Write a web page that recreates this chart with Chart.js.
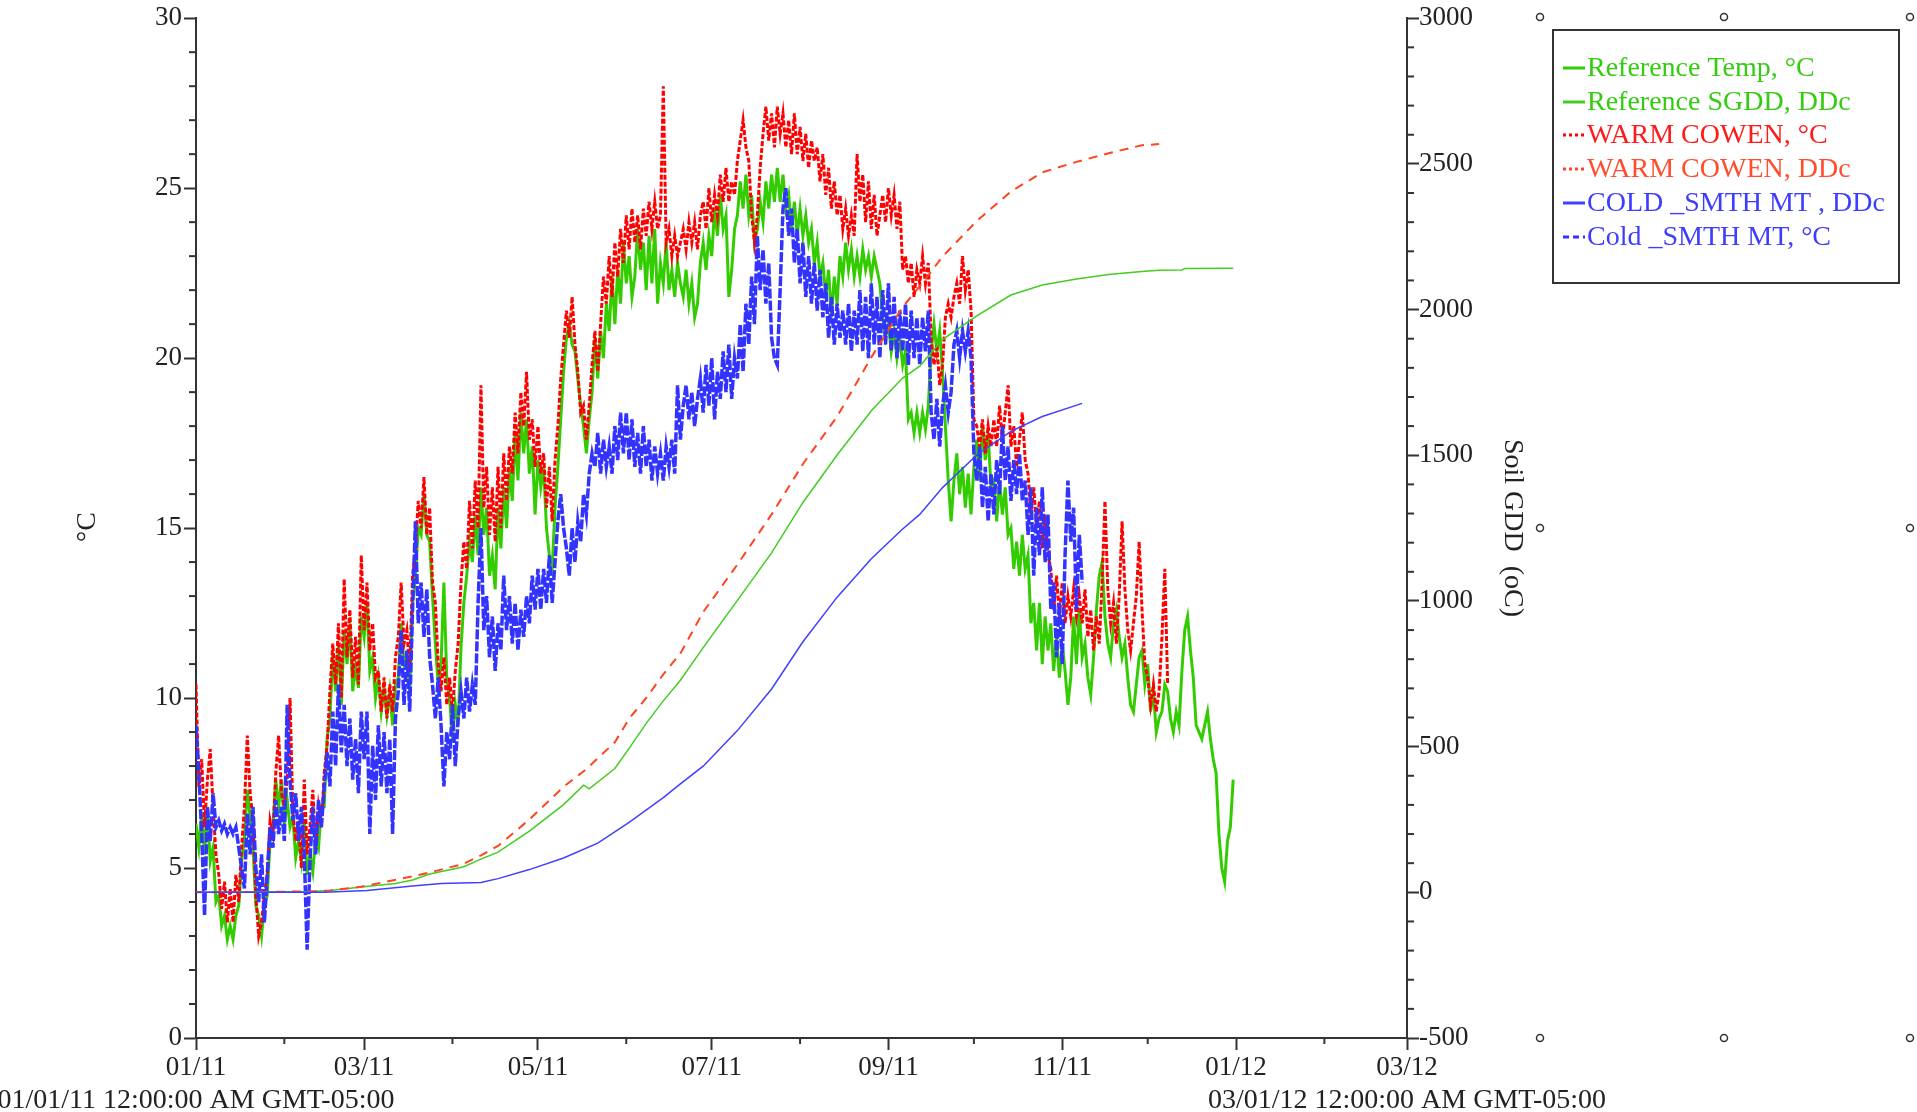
<!DOCTYPE html>
<html><head><meta charset="utf-8">
<script src="https://cdn.jsdelivr.net/npm/chart.js@4/dist/chart.umd.min.js"></script>
<style>html,body{margin:0;padding:0;background:#fff;overflow:hidden}canvas{display:block}</style>
</head><body>
<canvas id="c" width="1917" height="1112" style="width:1917px;height:1112px"></canvas>
<script>
const FONT = '"Liberation Serif", "Times New Roman", serif';

// x axis: days since 01/01/11
const monthStarts = [0,31,59,90,120,151,181,212,243,273,304,334,365,396,425];
const monthLabels = {0:'01/11',59:'03/11',120:'05/11',181:'07/11',243:'09/11',304:'11/11',365:'01/12',425:'03/12'};
const xEndLabels = ['01/01/11 12:00:00 AM GMT-05:00','03/01/12 12:00:00 AM GMT-05:00'];
const tempTicks = [0,1,2,3,4,5,6,7,8,9,10,11,12,13,14,15,16,17,18,19,20,21,22,23,24,25,26,27,28,29,30];
const gddTicks = [-500,-400,-300,-200,-100,0,100,200,300,400,500,600,700,800,900,1000,1100,1200,1300,1400,1500,1600,1700,1800,1900,2000,2100,2200,2300,2400,2500,2600,2700,2800,2900,3000];

const seriesNames = ['Reference Temp, °C','Reference SGDD, DDc','WARM COWEN, °C','WARM COWEN, DDc','COLD _SMTH MT , DDc','Cold _SMTH MT, °C'];

// daily temperatures (°C), day 0 = 01/01/11
const refTemp = [
6.3,5.6,6.6,5.4,6.8,5.2,5.6,4.0,4.2,3.3,
3.6,2.9,3.3,2.9,3.6,3.9,5.2,5.9,7.3,6.5,
5.6,3.9,3.6,3.0,3.9,4.2,5.8,6.2,7.6,6.8,
7.6,6.3,7.0,6.2,6.5,5.3,5.8,5.2,6.4,4.8,
5.4,4.9,5.9,5.6,6.8,6.8,8.8,9.4,11.3,10.2,
11.6,9.8,12.0,11.0,12.2,10.2,10.9,10.3,12.4,11.8,
12.8,10.8,11.2,10.0,10.6,9.6,10.3,9.5,10.2,9.2,
10.4,10.6,12.2,11.0,11.2,10.2,12.8,13.5,15.0,14.8,
16.0,14.8,14.6,13.0,11.6,10.4,11.0,13.4,10.6,10.0,
8.8,9.8,9.2,11.5,12.8,13.6,14.6,14.0,15.4,14.2,
16.2,14.8,15.6,13.6,14.2,13.2,15.6,14.4,16.2,15.0,
16.8,15.8,17.8,16.4,18.4,17.2,18.2,16.6,17.4,15.4,
17.0,16.2,16.8,15.0,14.2,13.8,15.6,16.8,18.2,19.6,
20.6,21.0,20.4,20.2,19.4,18.6,18.0,17.2,18.2,19.0,
20.6,19.4,20.8,20.0,21.6,20.8,22.4,21.0,22.6,21.6,
23.4,22.2,23.0,21.8,22.4,23.8,22.6,23.4,22.0,23.6,
22.2,23.8,21.6,22.8,22.2,23.4,22.0,22.6,21.8,22.8,
22.2,21.8,22.6,21.6,22.2,21.2,21.6,22.8,23.4,22.6,
23.6,23.0,24.4,23.6,24.8,23.8,24.2,21.8,22.6,23.8,
24.2,25.2,24.4,25.4,24.2,24.8,23.4,23.8,24.6,24.0,
25.2,24.4,25.4,24.6,25.6,24.6,25.4,24.4,24.8,23.8,
24.6,23.6,24.4,23.6,24.2,23.4,23.8,22.8,23.4,22.4,
22.8,21.8,22.6,21.2,22.4,21.6,23.0,22.4,23.4,22.6,
23.2,22.4,23.0,22.4,23.2,22.6,23.0,22.4,23.0,22.6,
22.2,21.2,20.6,21.0,20.2,20.8,20.0,20.6,19.8,20.2,
18.2,18.4,17.8,18.4,17.8,18.4,17.9,18.6,20.2,21.0,
20.2,20.8,19.6,18.0,16.4,15.2,16.4,17.2,16.0,16.8,
15.6,16.6,15.4,16.8,17.6,16.4,18.0,17.0,17.8,16.2,
16.4,15.2,16.4,15.4,16.2,14.8,15.0,13.8,14.6,13.6,
14.8,13.8,14.2,12.2,12.8,11.4,12.8,11.0,12.4,11.4,
12.2,10.8,11.8,10.6,11.6,10.8,9.8,10.6,12.4,11.0,
12.6,11.2,11.6,10.6,10.1,11.2,12.6,13.6,14.0,12.4,
11.6,11.2,12.2,12.6,11.8,11.2,11.6,10.6,9.8,9.6,
10.4,11.2,11.4,10.4,11.0,9.6,10.2,9.0,9.4,9.6,
10.4,10.2,9.4,9.0,9.6,9.2,10.8,12.0,12.4,11.4,
10.6,9.2,9.0,8.8,9.2,9.6,8.8,8.2,7.8,6.0,
5.0,4.6,5.8,6.2,7.6];

const warmTemp = [
10.4,7.4,8.2,6.2,7.6,8.5,6.8,5.4,4.8,3.8,
4.6,3.4,4.4,3.4,4.8,4.0,5.6,6.8,8.9,7.2,
6.4,4.2,3.0,3.4,4.2,4.8,6.4,6.0,7.8,8.9,
7.2,6.8,7.6,10.0,6.6,5.8,6.4,5.0,7.6,5.4,
6.2,7.3,5.6,6.8,6.2,7.8,8.6,10.2,11.6,10.4,
12.2,10.0,13.5,11.2,12.6,10.6,11.8,10.4,14.2,12.0,
13.4,11.4,12.2,10.6,10.8,9.6,10.6,9.4,10.4,9.6,
11.2,11.8,13.4,11.6,12.0,10.8,13.6,14.4,15.8,15.0,
16.5,14.8,15.6,13.4,12.8,11.0,10.2,11.2,9.8,10.6,
9.6,10.8,11.6,13.4,14.6,13.8,15.8,14.4,16.4,15.0,
19.2,15.6,16.8,14.8,16.2,14.6,16.8,15.0,17.2,15.8,
17.4,16.6,18.4,17.2,19.0,18.0,19.6,17.6,18.2,16.8,
18.0,16.6,17.2,15.6,16.8,15.2,17.0,18.0,19.4,20.4,
21.4,20.6,21.8,20.4,19.6,18.4,18.6,17.6,18.6,19.8,
20.8,19.6,21.0,22.4,21.6,23.0,21.8,23.4,22.4,23.8,
22.8,24.2,23.2,24.4,23.4,24.2,23.2,24.4,23.6,24.6,
23.8,24.6,23.8,24.2,28.0,23.4,23.8,23.0,23.6,23.0,
23.4,23.8,23.2,24.0,23.4,24.0,23.2,24.2,24.6,23.8,
25.0,24.0,24.8,24.2,25.4,24.6,25.6,24.6,25.2,24.8,
25.8,26.4,27.0,26.2,25.8,24.2,23.4,24.2,25.6,26.6,
27.4,26.4,27.2,26.2,27.4,26.6,27.2,26.2,27.0,26.0,
27.2,26.0,26.8,25.8,26.6,25.6,26.4,25.8,26.2,25.2,
26.0,24.8,25.6,24.4,25.2,24.2,24.8,23.8,24.4,23.6,
24.2,23.6,26.0,24.6,25.4,24.0,25.2,23.8,24.8,23.6,
24.2,24.8,24.0,25.0,24.2,24.8,23.8,24.6,22.6,23.0,
22.2,22.8,21.8,22.6,22.2,23.0,22.2,22.8,20.6,19.8,
20.4,19.2,19.8,21.2,21.6,21.2,21.8,22.2,21.6,23.0,
22.0,22.6,21.4,18.2,18.0,17.4,18.2,17.2,18.0,17.4,
18.2,17.4,18.6,17.6,18.4,19.2,17.4,18.0,16.8,17.6,
18.4,17.0,16.6,15.4,16.2,15.0,15.8,14.4,15.4,14.2,
13.8,12.6,13.6,12.4,13.4,12.2,13.0,12.4,13.2,12.4,
13.0,12.2,13.2,11.8,12.6,11.4,12.4,11.6,13.4,15.8,
13.2,12.2,12.8,11.6,13.0,15.2,13.2,12.0,11.4,12.2,
13.0,14.6,12.6,11.0,10.6,9.8,10.4,9.6,10.2,11.8,
13.8,10.4];

const coldTemp = [
9.2,7.8,6.0,3.6,6.8,5.8,7.2,6.2,6.4,6.1,
6.3,6.0,6.2,6.0,6.2,5.6,5.0,4.4,6.6,5.4,
6.8,5.0,4.0,5.4,3.4,4.8,6.2,5.6,7.0,6.0,
6.8,5.8,9.8,7.6,6.4,7.2,5.8,6.8,5.4,2.6,
5.2,6.8,5.4,7.0,6.2,7.4,8.4,7.4,9.6,8.0,
10.4,8.4,9.8,8.0,9.4,7.6,8.8,7.2,9.6,8.2,
9.6,6.0,8.6,7.0,9.2,7.4,9.0,7.2,8.8,6.0,
9.4,10.2,12.0,9.8,11.4,9.6,12.6,15.2,12.2,13.4,
11.8,13.2,11.2,10.4,9.4,10.6,9.2,7.4,9.0,8.2,
9.8,8.0,9.4,10.2,9.4,10.6,9.6,10.4,9.8,12.8,
15.0,12.0,13.0,11.2,12.4,10.8,12.2,11.4,13.6,12.0,
13.0,11.6,12.8,11.4,12.6,11.8,13.0,12.2,13.6,12.6,
13.8,12.6,13.8,12.8,14.2,12.8,14.0,15.2,16.0,15.0,
14.4,13.6,15.0,14.0,15.2,14.6,16.0,15.4,16.6,17.2,
16.8,17.8,16.6,17.6,16.8,17.4,16.6,18.0,17.0,18.4,
17.2,18.4,17.0,18.2,16.8,17.8,16.6,18.0,16.8,17.6,
16.4,17.4,16.6,17.2,16.4,17.4,16.8,17.6,16.6,19.2,
17.6,18.6,19.2,18.2,19.0,18.0,18.8,19.4,18.4,19.8,
18.6,20.0,18.2,19.6,18.8,20.2,19.0,20.4,18.8,20.0,
19.4,21.0,19.6,21.6,20.4,22.4,21.0,23.6,22.0,23.2,
21.6,22.8,20.6,20.0,19.8,22.0,24.4,25.0,23.6,24.4,
22.8,23.8,22.2,23.4,21.8,23.0,21.6,22.8,21.4,22.6,
21.2,22.2,20.6,21.8,20.4,21.6,20.6,21.4,20.4,21.6,
20.2,21.4,20.4,22.0,20.2,21.8,20.0,22.2,20.4,21.8,
20.0,22.0,20.4,22.2,20.2,21.8,20.0,21.4,20.2,21.6,
19.8,21.4,20.0,21.2,19.8,21.2,20.2,21.4,18.4,17.6,
18.8,17.4,18.6,19.2,18.4,19.0,20.4,20.8,20.0,20.8,
20.2,20.8,20.0,17.2,16.4,17.4,15.6,16.8,15.2,16.6,
15.4,17.0,16.0,18.0,16.4,17.4,15.8,17.0,16.0,17.2,
15.8,16.4,14.8,16.2,13.6,15.6,14.2,16.2,14.0,15.4,
12.6,13.4,11.2,12.8,11.0,14.2,16.4,14.6,15.6,12.6,
14.8,13.4];

// cumulative degree days (DDc), read at the listed days
const refGddDays = [0,40,47,58,70,76,82,94,100,106,117,129,136,138,147,152,158,164,170,178,190,202,213,225,237,248,254,262,274,286,297,309,321,332,338,346,347,364];
const refGdd     = [0,3,6,18,30,42,63,88,114,138,210,301,368,355,425,494,580,657,728,840,1002,1165,1338,1501,1653,1765,1806,1897,1978,2050,2084,2105,2121,2131,2135,2136,2141,2142];
const warmGddDays = [0,40,47,58,76,82,94,100,106,117,129,137,147,152,158,164,170,178,190,202,213,225,237,248,254,258,262,274,286,297,309,321,332,338];
const warmGdd     = [0,3,6,19,55,68,98,127,159,250,362,423,515,596,667,748,820,962,1125,1297,1470,1633,1836,2009,2080,2130,2182,2304,2405,2471,2507,2538,2564,2568];
const coldGddDays = [0,45,60,76,86,100,106,117,129,141,152,164,170,178,190,202,213,225,237,248,254,262,274,286,297,311];
const coldGdd     = [0,0,6,22,30,34,47,78,118,169,240,325,372,433,555,698,860,1013,1145,1247,1297,1389,1501,1582,1633,1678];

function daily(arr){ return arr.map((v,i)=>({x:i,y:v})); }
function pairs(days, vals){ return days.map((d,i)=>({x:d,y:vals[i]})); }

const legendText = ['#33cc11','#33cc11','#ff1a1a','#ff4d2e','#3d3dff','#3d3dff'];
const legendDash = [[],[],[3,3],[3,3],[],[6,4]];

const deco = {
  id:'deco',
  afterDraw(chart){
    const c = chart.ctx, a = chart.chartArea;
    const xs = chart.scales.x, yt = chart.scales.yT, yg = chart.scales.yG;
    c.save();
    c.strokeStyle = '#333'; c.lineWidth = 2;
    const ln = (x1,y1,x2,y2)=>{c.beginPath();c.moveTo(x1,y1);c.lineTo(x2,y2);c.stroke();};
    monthStarts.forEach(v=>{ if(monthLabels[v]===undefined){ const p=xs.getPixelForValue(v); ln(p,a.bottom,p,a.bottom+6);} });
    tempTicks.forEach(v=>{ if(v%5!==0){ const p=yt.getPixelForValue(v); ln(a.left-7,p,a.left,p);} });
    gddTicks.forEach(v=>{ if(v%500!==0){ const p=yg.getPixelForValue(v); ln(a.right,p,a.right+7,p);} });

    c.fillStyle = '#222';
    c.font = '28px ' + FONT; c.textAlign='center'; c.textBaseline='middle';
    c.fillText(xEndLabels[0], xs.getPixelForValue(0), 1101);
    c.fillText(xEndLabels[1], xs.getPixelForValue(425), 1101);

    c.save(); c.translate(88, 527); c.rotate(-Math.PI/2); c.fillText('°C',0,0); c.restore();
    c.save(); c.translate(1512, 528); c.rotate(Math.PI/2); c.fillText('Soil GDD  (oC)',0,0); c.restore();

    // legend
    c.lineWidth = 2; c.strokeStyle = '#333';
    c.strokeRect(1553, 30, 346, 253);
    const rows = [68,102,135,169,203,237];
    c.textAlign='left'; c.font = '28px ' + FONT;
    chart.data.datasets.forEach((ds,i)=>{
      const y = rows[i];
      c.save();
      c.strokeStyle = ds.borderColor; c.lineWidth = 3; c.setLineDash(legendDash[i]);
      ln(1563, y, 1585, y);
      c.restore();
      c.fillStyle = legendText[i];
      c.fillText(ds.label, 1587, y+1);
    });

    // selection handles
    c.lineWidth = 1.5; c.strokeStyle='#333'; c.fillStyle='#fff';
    [[1540,17],[1724,17],[1910,17],[1540,528],[1910,528],[1540,1038],[1724,1038],[1910,1038]].forEach(([x,y])=>{
      c.beginPath(); c.arc(x,y,3.5,0,Math.PI*2); c.fill(); c.stroke();
    });
    c.restore();
  }
};

const tickFont = {family: FONT, size: 27};
new Chart(document.getElementById('c'), {
  type:'line',
  data:{datasets:[
    {label:seriesNames[0], data:daily(refTemp), yAxisID:'yT', borderColor:'#33cc00', borderWidth:3, order:5},
    {label:seriesNames[1], data:pairs(refGddDays, refGdd), yAxisID:'yG', borderColor:'#44cc22', borderWidth:1.5, order:2},
    {label:seriesNames[2], data:daily(warmTemp), yAxisID:'yT', borderColor:'#ff0000', borderWidth:3, borderDash:[5,2], order:4},
    {label:seriesNames[3], data:pairs(warmGddDays, warmGdd), yAxisID:'yG', borderColor:'#ff4422', borderWidth:2, borderDash:[9,7], order:1},
    {label:seriesNames[4], data:pairs(coldGddDays, coldGdd), yAxisID:'yG', borderColor:'#4040ff', borderWidth:1.5, order:0},
    {label:seriesNames[5], data:daily(coldTemp), yAxisID:'yT', borderColor:'#3333ff', borderWidth:3.5, borderDash:[10,2], order:3}
  ]},
  options:{
    responsive:false, animation:false, devicePixelRatio:1,
    elements:{point:{radius:0,hoverRadius:0}, line:{tension:0, fill:false}},
    layout:{padding:{left:0, top:17, right:0, bottom:0}},
    plugins:{legend:{display:false}, tooltip:{enabled:false}},
    events:[],
    scales:{
      x:{type:'linear', position:'bottom', min:0, max:425,
        afterBuildTicks:s=>{ s.ticks = monthStarts.map(v=>({value:v})); },
        afterFit:s=>{ s.height = 74; },
        ticks:{autoSkip:false, maxRotation:0, minRotation:0, padding:2, color:'#222', font:tickFont,
               callback:v=> monthLabels[v]!==undefined ? monthLabels[v] : ''},
        grid:{drawOnChartArea:false, drawTicks:true, tickLength:12, tickWidth:2,
              tickColor:ctx=> (ctx.tick && monthLabels[ctx.tick.value]!==undefined) ? '#333' : 'rgba(0,0,0,0)'},
        border:{display:true, color:'#333', width:2}
      },
      yT:{type:'linear', position:'left', min:0, max:30,
        afterBuildTicks:s=>{ s.ticks = tempTicks.map(v=>({value:v})); },
        afterFit:s=>{ s.width = 196; },
        ticks:{autoSkip:false, padding:2, color:'#222', font:tickFont,
               callback:v=> v%5===0 ? String(v) : ''},
        grid:{drawOnChartArea:false, drawTicks:true, tickLength:12, tickWidth:2,
              tickColor:ctx=> (ctx.tick && ctx.tick.value%5===0) ? '#333' : 'rgba(0,0,0,0)'},
        border:{display:true, color:'#333', width:2}
      },
      yG:{type:'linear', position:'right', min:-500, max:3000,
        afterBuildTicks:s=>{ s.ticks = gddTicks.map(v=>({value:v})); },
        afterFit:s=>{ s.width = 510; },
        ticks:{autoSkip:false, padding:0, color:'#222', font:tickFont,
               callback:v=> v%500===0 ? String(v) : ''},
        grid:{drawOnChartArea:false, drawTicks:true, tickLength:12, tickWidth:2,
              tickColor:ctx=> (ctx.tick && ctx.tick.value%500===0) ? '#333' : 'rgba(0,0,0,0)'},
        border:{display:true, color:'#333', width:2}
      }
    }
  },
  plugins:[deco]
});
</script>
</body></html>
